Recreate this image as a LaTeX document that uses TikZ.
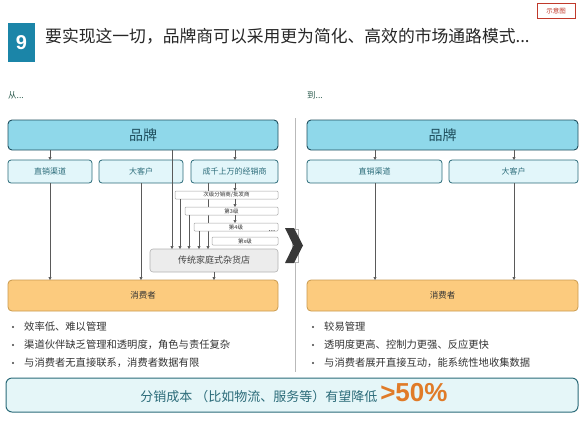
\documentclass[tikz,border=0pt]{standalone}
\usepackage{fontspec}
\setmainfont{Noto Sans CJK SC}
\newfontfamily\arialf{Liberation Sans}
\usetikzlibrary{arrows.meta}
\definecolor{tealdark}{HTML}{1F4F5E}
\definecolor{tealmid}{HTML}{2B6B79}
\definecolor{brandfill}{HTML}{8FD8EA}
\definecolor{subfill}{HTML}{E2F6FA}
\definecolor{consfill}{HTML}{FCCB7E}
\definecolor{consdraw}{HTML}{C99A4E}
\definecolor{botfill}{HTML}{E5F6F8}
\definecolor{ninefill}{HTML}{1B85A8}
\definecolor{redmark}{HTML}{C0392B}
\definecolor{orangebig}{HTML}{E07B28}
\definecolor{greentxt}{HTML}{2D5C4F}
\definecolor{arrgray}{HTML}{5A5A5A}
\tikzset{
  box/.style={inner sep=0pt, outer sep=0pt, align=center},
  brandbox/.style={box, draw=tealdark, line width=0.9pt, fill=brandfill, rounded corners=4pt, text=tealdark, font=\fontsize{14}{14}\selectfont},
  subbox/.style={box, draw=tealmid, line width=0.8pt, fill=subfill, rounded corners=3pt, text=tealmid, font=\fontsize{8}{8}\selectfont},
  casbox/.style={box, draw=gray!70, line width=0.5pt, fill=white, rounded corners=1pt, text=black!80, font=\fontsize{5.5}{5.5}\selectfont},
  shopbox/.style={box, draw=gray!60, line width=0.6pt, fill=gray!15, rounded corners=3pt, text=black!75, font=\fontsize{9}{9}\selectfont},
  consbox/.style={box, draw=consdraw, line width=0.8pt, fill=consfill, rounded corners=4pt, text=black!80, font=\fontsize{8.5}{8.5}\selectfont},
  arr/.style={draw=arrgray, line width=0.5pt, -{Triangle[length=3pt,width=3pt]}},
  bul/.style={anchor=west, inner sep=0pt, text=black!80, font=\fontsize{10.3}{10.3}\selectfont},
  dot/.style={circle, fill=black!75, inner sep=0pt, minimum size=2.2pt},
}
\begin{document}
\begin{tikzpicture}[x=1pt,y=-1pt]
\useasboundingbox (0,0) rectangle (580,424);
% header
\node[box, draw=redmark, line width=0.5pt, minimum width=38pt, minimum height=15pt, text=redmark, font=\fontsize{6.5}{6.5}\selectfont] (mark) at (556,10.5) {示意图};
\node[box, fill=ninefill, minimum width=27pt, minimum height=39pt, text=white, font=\arialf\bfseries\fontsize{20}{20}\selectfont] (nine) at (21.5,42.5) {9};
\node[anchor=west, inner sep=0pt, text=black!85, font=\fontsize{16.8}{16.8}\selectfont] (title) at (45,36) {要实现这一切，品牌商可以采用更为简化、高效的市场通路模式...};
\node[anchor=west, inner sep=0pt, text=greentxt, font=\fontsize{8.5}{8.5}\selectfont] (from) at (8,95) {从...};
\node[anchor=west, inner sep=0pt, text=greentxt, font=\fontsize{8.5}{8.5}\selectfont] (to) at (307,95) {到...};

% separator and chevron
\coordinate (septop) at (295,118);
\coordinate (sepbot) at (295,372);
\draw[gray!55, line width=1pt] (septop) -- (sepbot);
\draw[gray!60, fill=white, line width=0.4pt] (292,229) rectangle (298,262);
\fill[black!78] (285,228) -- (294,228) -- (303,245.5) -- (294,263) -- (285,263) -- (293.5,245.5) -- cycle;

% column coordinates
\foreach \nm/\xx in {c50/50,c141/141,c172/172,c180/180,c189/189,c199/199,c208/208,c214/214,c235/235,c375/375,c514/514}
  \coordinate (\nm) at (\xx,0);

% left side nodes
\node[brandbox, minimum width=270pt, minimum height=30pt] (brandL) at (143,135) {品牌};
\node[subbox, minimum width=84pt, minimum height=23pt] (zhiL) at (50,171.5) {直销渠道};
\node[subbox, minimum width=84pt, minimum height=23pt] (daL) at (141,171.5) {大客户};
\node[subbox, minimum width=87pt, minimum height=23pt] (jing) at (234.5,171.5) {成千上万的经销商};
\node[shopbox, minimum width=128pt, minimum height=23pt] (shop) at (214,260.5) {传统家庭式杂货店};
\node[consbox, minimum width=270pt, minimum height=31pt] (consL) at (143,295.5) {消费者};

% line behind cascade
\draw[arr] (jing.south -| c208) -- (shop.north -| c208);

\node[casbox, minimum width=103pt, minimum height=8pt] (ciji) at (226.5,195) {次级分销商/批发商};
\node[casbox, minimum width=93pt, minimum height=8pt] (l3) at (231.5,211) {第3级};
\node[casbox, minimum width=84pt, minimum height=8pt] (l4) at (236,227) {第4级};
\node[casbox, minimum width=66pt, minimum height=8pt] (lx) at (245,241) {第x级};
\node[inner sep=0pt, font=\fontsize{8}{8}\selectfont, text=black!70] (dots) at (272,231) {...};

% left arrows
\draw[arr] (brandL.south -| c50) -- (zhiL.north -| c50);
\draw[arr] (brandL.south -| c235) -- (jing.north -| c235);
\draw[arr] (brandL.south -| c172) -- (shop.north -| c172);
\draw[arr] (zhiL.south -| c50) -- (consL.north -| c50);
\draw[arr] (daL.south -| c141) -- (consL.north -| c141);
\draw[arr] (jing.south -| c235) -- (ciji.north -| c235);
\draw[arr] (ciji.south -| c235) -- (l3.north -| c235);
\draw[arr] (l3.south -| c235) -- (l4.north -| c235);
\draw[arr] (ciji.south -| c180) -- (shop.north -| c180);
\draw[arr] (l3.south -| c189) -- (shop.north -| c189);
\draw[arr] (l4.south -| c199) -- (shop.north -| c199);
\draw[arr] (shop.south -| c214) -- (consL.north -| c214);

% right side nodes
\node[brandbox, minimum width=271pt, minimum height=30pt] (brandR) at (442.5,135) {品牌};
\node[subbox, minimum width=135pt, minimum height=23pt] (zhiR) at (374.5,171.5) {直销渠道};
\node[subbox, minimum width=129pt, minimum height=23pt] (daR) at (513.5,171.5) {大客户};
\node[consbox, minimum width=271pt, minimum height=31pt] (consR) at (442.5,295.5) {消费者};
\draw[arr] (brandR.south -| c375) -- (zhiR.north -| c375);
\draw[arr] (brandR.south -| c514) -- (daR.north -| c514);
\draw[arr] (zhiR.south -| c375) -- (consR.north -| c375);
\draw[arr] (daR.south -| c514) -- (consR.north -| c514);

% bullets left
\node[dot] (dl1) at (13,327) {};
\node[bul] (tl1) at (24,327) {效率低、难以管理};
\node[dot] (dl2) at (13,345) {};
\node[bul] (tl2) at (24,345) {渠道伙伴缺乏管理和透明度，角色与责任复杂};
\node[dot] (dl3) at (13,363) {};
\node[bul] (tl3) at (24,363) {与消费者无直接联系，消费者数据有限};
% bullets right
\node[dot] (dr1) at (313,327) {};
\node[bul] (tr1) at (324,327) {较易管理};
\node[dot] (dr2) at (313,345) {};
\node[bul] (tr2) at (324,345) {透明度更高、控制力更强、反应更快};
\node[dot] (dr3) at (313,363) {};
\node[bul] (tr3) at (324,363) {与消费者展开直接互动，能系统性地收集数据};

% bottom box
\node[box, draw=tealmid, line width=1pt, fill=botfill, rounded corners=6pt, minimum width=572pt, minimum height=34pt] (bottom) at (292,395) {};
\node[inner sep=0pt, anchor=base, text=tealmid] (btext) at (294,401.5) {\fontsize{13}{13}\selectfont 分销成本\ （比如物流、服务等）有望降低\ {\arialf\bfseries\fontsize{26}{26}\selectfont\color{orangebig}>50\%}};
\end{tikzpicture}
\end{document}
